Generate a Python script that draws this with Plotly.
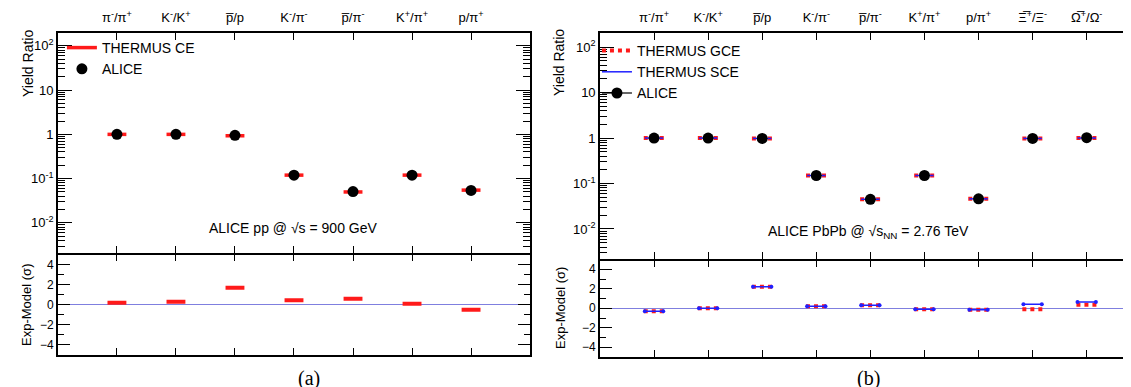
import plotly.graph_objects as go

W, H = 1131, 387

# ---------------- data ----------------
cats_a = ["π<sup>-</sup>/π<sup>+</sup>", "K<sup>-</sup>/K<sup>+</sup>", "p\u0305/p",
          "K<sup>-</sup>/π<sup>-</sup>", "p\u0305/π<sup>-</sup>", "K<sup>+</sup>/π<sup>+</sup>",
          "p/π<sup>+</sup>"]
alice_a = [1.0, 1.0, 0.95, 0.12, 0.051, 0.12, 0.054]
ce_a = [1.0, 1.0, 0.93, 0.12, 0.050, 0.12, 0.055]
dev_ce_a = [0.2, 0.3, 1.7, 0.45, 0.6, 0.1, -0.5]

cats_b = ["π<sup>-</sup>/π<sup>+</sup>", "K<sup>-</sup>/K<sup>+</sup>", "p\u0305/p",
          "K<sup>-</sup>/π<sup>-</sup>", "p\u0305/π<sup>-</sup>", "K<sup>+</sup>/π<sup>+</sup>",
          "p/π<sup>+</sup>", "Ξ\u0305<sup>+</sup>/Ξ<sup>-</sup>", "Ω\u0305<sup>+</sup>/Ω<sup>-</sup>"]
alice_b = [1.0, 1.0, 0.98, 0.15, 0.045, 0.15, 0.046, 0.98, 1.02]
gce_b = [1.0, 1.0, 0.98, 0.15, 0.045, 0.15, 0.046, 0.98, 1.0]
sce_b = [1.0, 1.0, 0.98, 0.15, 0.045, 0.15, 0.046, 0.98, 1.0]
dev_gce_b = [-0.3, 0.0, 2.2, 0.2, 0.3, -0.1, -0.15, -0.1, 0.35]
dev_sce_b = [-0.3, 0.0, 2.2, 0.2, 0.3, -0.1, -0.15, 0.4, 0.65]

RED = "#ff1a1a"
BLUE = "#2020ff"
ZERO = "#7f7fdf"
FONT = "Liberation Sans"
SERIF = "Liberation Serif"


def segs(vals, w):
    xs, ys = [], []
    for i, v in enumerate(vals):
        xs += [i - w, i + w, None]
        ys += [v, v, None]
    return xs, ys


def px(x):
    return x / W


def py(y):
    return 1 - y / H


fig = go.Figure()

# ---- panel (a) upper ----
xs, ys = segs(ce_a, 0.16)
fig.add_trace(go.Scatter(x=xs, y=ys, mode="lines", line=dict(color=RED, width=3.5),
                         name="THERMUS CE", xaxis="x", yaxis="y", legend="legend"))
fig.add_trace(go.Scatter(x=list(range(len(alice_a))), y=alice_a, mode="markers",
                         marker=dict(color="black", size=11), name="ALICE",
                         xaxis="x", yaxis="y", legend="legend"))
# ---- panel (a) lower ----
xs, ys = segs(dev_ce_a, 0.16)
fig.add_trace(go.Scatter(x=xs, y=ys, mode="lines", line=dict(color=RED, width=4),
                         showlegend=False, xaxis="x2", yaxis="y2"))

# ---- panel (b) upper ----
xs, ys = segs(gce_b, 0.19)
fig.add_trace(go.Scatter(x=xs, y=ys, mode="lines", line=dict(color=RED, width=4, dash="dot"),
                         name="THERMUS GCE", xaxis="x3", yaxis="y3", legend="legend2"))
xs, ys = segs(sce_b, 0.17)
fig.add_trace(go.Scatter(x=xs, y=ys, mode="lines", line=dict(color=BLUE, width=1.5),
                         name="THERMUS SCE", xaxis="x3", yaxis="y3", legend="legend2"))
fig.add_trace(go.Scatter(x=list(range(len(alice_b))), y=alice_b, mode="markers",
                         marker=dict(color="black", size=11), showlegend=False,
                         xaxis="x3", yaxis="y3"))
fig.add_trace(go.Scatter(x=[None], y=[None], mode="lines+markers",
                         line=dict(color="black", width=1.2),
                         marker=dict(color="black", size=11), name="ALICE",
                         xaxis="x3", yaxis="y3", legend="legend2"))

# ---- panel (b) lower ----
xs, ys = segs(dev_gce_b, 0.19)
fig.add_trace(go.Scatter(x=xs, y=ys, mode="lines", line=dict(color=RED, width=4, dash="dot"),
                         showlegend=False, xaxis="x4", yaxis="y4"))
xs, ys = segs(dev_sce_b, 0.17)
fig.add_trace(go.Scatter(x=xs, y=ys, mode="lines+markers", line=dict(color=BLUE, width=1.5),
                         marker=dict(color=BLUE, size=4),
                         showlegend=False, xaxis="x4", yaxis="y4"))

# ---------------- axes ----------------
LW = 1.5
xa_dom = [px(50), px(523)]
xb_dom = [px(593), 1.0]
ya_up = [py(245), py(25)]
ya_lo = [py(347), py(245 + LW)]
yb_up = [py(251), py(25)]
yb_lo = [py(349), py(251 + LW)]

frame = dict(showline=True, linecolor="black", linewidth=LW, mirror="ticks",
             showgrid=False, zeroline=False, ticks="inside", tickcolor="black")

log_major = [1e-2, 1e-1, 1, 10, 100]
log_text = ["10<sup>-2</sup>", "10<sup>-1</sup>", "1", "10", "10<sup>2</sup>"]
log_minor = [m * 10 ** e for e in range(-3, 3) for m in range(2, 10)]


def logy(dom, rng, anchor):
    return dict(frame, type="log", domain=dom, range=rng, anchor=anchor,
                tickmode="array", tickvals=log_major, ticktext=log_text, ticklen=14,
                tickfont=dict(family=FONT, size=13, color="black"),
                minor=dict(tickmode="array", tickvals=log_minor, ticks="inside",
                           ticklen=7, tickcolor="black"))


def liny(dom, rng, anchor):
    return dict(frame, domain=dom, range=rng, anchor=anchor,
                tickmode="array", tickvals=[-4, -2, 0, 2, 4], ticklen=12,
                tickfont=dict(family=FONT, size=12, color="black"),
                zeroline=True, zerolinecolor=ZERO, zerolinewidth=1.2,
                minor=dict(tickmode="array", tickvals=[-3, -1, 1, 3], ticks="inside",
                           ticklen=6, tickcolor="black"))


def topx(dom, rng, anchor, cats):
    return dict(frame, domain=dom, range=rng, anchor=anchor, side="top",
                tickmode="array", tickvals=list(range(len(cats))), ticktext=cats,
                ticklen=7, ticklabelstandoff=4,
                tickfont=dict(family=FONT, size=13, color="black"))


def botx(dom, rng, anchor, n):
    return dict(frame, domain=dom, range=rng, anchor=anchor,
                tickmode="array", tickvals=list(range(n)), showticklabels=False,
                ticklen=7)


fig.update_layout(
    width=W, height=H, margin=dict(l=0, r=0, t=0, b=0),
    paper_bgcolor="white", plot_bgcolor="white",
    xaxis=topx(xa_dom, [-1, 7], "y", cats_a),
    yaxis=logy(ya_up, [-2.68, 2.29], "x"),
    xaxis2=botx(xa_dom, [-1, 7], "y2", len(cats_a)),
    yaxis2=liny(ya_lo, [-5, 5.0], "x2"),
    xaxis3=topx(xb_dom, [-1, 8.93], "y3", cats_b),
    yaxis3=logy(yb_up, [-2.66, 2.31], "x3"),
    xaxis4=botx(xb_dom, [-1, 8.93], "y4", len(cats_b)),
    yaxis4=liny(yb_lo, [-5, 4.9], "x4"),
    legend=dict(x=px(54), y=py(24), xanchor="left", yanchor="top",
                bgcolor="rgba(0,0,0,0)", font=dict(family=FONT, size=14, color="black"),
                itemwidth=30, tracegroupgap=0),
    legend2=dict(x=px(590), y=py(27), xanchor="left", yanchor="top",
                 bgcolor="rgba(0,0,0,0)", font=dict(family=FONT, size=14, color="black"),
                 itemwidth=30, tracegroupgap=0),
    showlegend=True,
)

ann = []
ann.append(dict(text="Yield Ratio", x=px(20), y=py(55), textangle=-90,
                font=dict(family=FONT, size=14, color="black")))
ann.append(dict(text="Yield Ratio", x=px(552), y=py(55), textangle=-90,
                font=dict(family=FONT, size=14, color="black")))
ann.append(dict(text="Exp-Model (σ)", x=px(18), y=py(297), textangle=-90,
                font=dict(family=FONT, size=13, color="black")))
ann.append(dict(text="Exp-Model (σ)", x=px(553), y=py(300), textangle=-90,
                font=dict(family=FONT, size=13, color="black")))
ann.append(dict(text="ALICE pp @ √s = 900 GeV", x=px(286), y=py(220),
                font=dict(family=FONT, size=14, color="black")))
ann.append(dict(text="ALICE PbPb @ √s<sub>NN</sub> = 2.76 TeV", x=px(862), y=py(224),
                font=dict(family=FONT, size=14, color="black")))
ann.append(dict(text="(a)", x=px(302), y=py(357), yanchor="top",
                font=dict(family=SERIF, size=20, color="black")))
ann.append(dict(text="(b)", x=px(862), y=py(357), yanchor="top",
                font=dict(family=SERIF, size=20, color="black")))
for a in ann:
    a.setdefault("yanchor", "middle")
    a.update(xref="paper", yref="paper", showarrow=False, xanchor="center")
fig.update_layout(annotations=ann)

fig.write_html("out.html")
